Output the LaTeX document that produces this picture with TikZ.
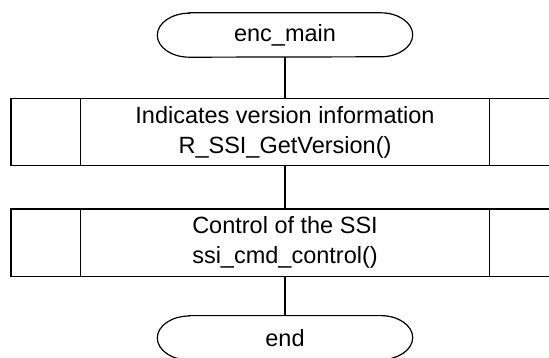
\documentclass[tikz,border=0pt]{standalone}
\usepackage{fontspec}
\setmainfont{Liberation Sans}
\usetikzlibrary{positioning}
\tikzstyle{term}=[minimum width=255pt,minimum height=44pt,font=\fontsize{23.5}{30}\selectfont]
\tikzstyle{proc}=[draw,line width=1.2pt,minimum width=548pt,minimum height=67.5pt,align=center,font=\fontsize{23.5}{30}\selectfont]
\tikzstyle{flow}=[line width=1.2pt]

\begin{document}
\begin{tikzpicture}[node distance=40pt,x=1pt,y=1pt]
  \useasboundingbox (0,0) rectangle (549,-358);
  \node [term] (start) at (285,-35) {enc\_main};
  \node [proc] (ver) [below=40.5pt of start] {Indicates version information\\R\_SSI\_GetVersion()};
  \node [proc] (ctrl) [below=42pt of ver] {Control of the SSI\\ssi\_cmd\_control()};
  \node [term] (stop) [below=38.5pt of ctrl] {end};
  % terminal outlines
  \foreach \n in {start,stop}
    \draw [flow] ([xshift=32pt]\n.north west) -- ([xshift=-32pt]\n.north east)
      arc[start angle=90,end angle=-90,x radius=32pt,y radius=22pt]
      -- ([xshift=32pt]\n.south west)
      arc[start angle=270,end angle=90,x radius=32pt,y radius=22pt] -- cycle;
  % side bars
  \foreach \n in {ver,ctrl} {
    \draw [flow] ([xshift=70pt]\n.north west) -- ([xshift=70pt]\n.south west);
    \draw [flow] ([xshift=-70pt]\n.north east) -- ([xshift=-70pt]\n.south east);
  }
  \draw [flow] (start) -- (ver);
  \draw [flow] (ver) -- (ctrl);
  \draw [flow] (ctrl) -- (stop);
\end{tikzpicture}
\end{document}
